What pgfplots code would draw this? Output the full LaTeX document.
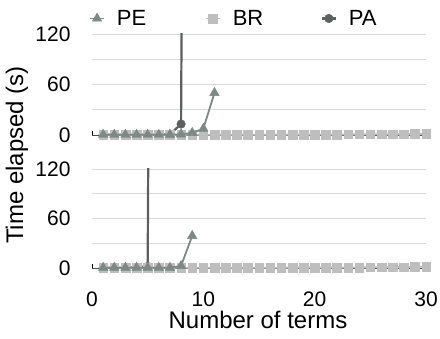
\documentclass[border=0pt]{standalone}
\usepackage{pgfplots}
\pgfplotsset{compat=1.18}
\usepackage{pgfplotstable}
\usepackage{fontspec}
\setmainfont{Liberation Sans}
\definecolor{peC}{HTML}{7D8984}
\definecolor{paC}{HTML}{5C605E}
\definecolor{brC}{HTML}{BEBEBE}
\definecolor{gridC}{HTML}{D9D9D9}

\pgfplotstableread{
x y
1 0.3
2 0.3
3 0.3
4 0.3
5 0.3
6 0.3
7 0.5
8 0.8
9 2.5
10 7.5
11 50
}\topPE
\pgfplotstableread{
x y
1 0.2
2 0.2
3 0.2
4 0.2
5 0.2
6 0.2
7 0.8
8 13
9 2500
}\topPA
\pgfplotstableread{
x y
1 0.2
2 0.2
3 0.2
4 0.2
5 0.2
6 0.2
7 0.2
8 0.2
9 0.2
10 0.3
11 0.3
12 0.3
13 0.3
14 0.3
15 0.4
16 0.4
17 0.4
18 0.5
19 0.5
20 0.5
21 0.6
22 0.6
23 0.7
24 0.7
25 0.8
26 0.9
27 1.0
28 1.1
29 1.2
30 1.4
}\topBR
\pgfplotstableread{
x y
1 0.3
2 0.3
3 0.3
4 0.3
5 0.3
6 0.3
7 0.3
8 2.5
9 39
}\botPE
\pgfplotstableread{
x y
1 0.2
2 0.2
3 0.3
4 1.0
5 1.8
6 2500
}\botPA
\pgfplotstableread{
x y
1 0.2
2 0.2
3 0.2
4 0.2
5 0.2
6 0.2
7 0.2
8 0.2
9 0.2
10 0.3
11 0.3
12 0.3
13 0.3
14 0.3
15 0.4
16 0.4
17 0.4
18 0.5
19 0.5
20 0.5
21 0.6
22 0.6
23 0.7
24 0.7
25 0.8
26 0.9
27 1.0
28 1.1
29 1.3
30 1.6
}\botBR

\pgfplotsset{
  myaxis/.style={
    scale only axis, width=334bp,
    xmin=0, xmax=30, ymin=-10, ymax=120,
    axis x line=middle, axis y line=left,
    hide obscured x ticks=false,
    y axis line style={draw=none},
    x axis line style={-, draw=black!70, line width=0.8bp},
    xtick={0,10,20,30},
    tick align=inside, major tick length=4bp,
    xtick style={black, line width=0.9bp},
    ytick={0,30,60,90,120}, yticklabels={0,,60,,120},
    ytick style={draw=none},
    ymajorgrids,
    major grid style={gridC, line width=0.8bp},
    clip mode=individual,
    /pgf/number format/assume math mode=true,
    tick label style={font=\fontsize{21bp}{25bp}\selectfont},
    yticklabel style={xshift=-18bp},
    peS/.style={peC, line width=1.8bp, mark=triangle*, mark size=5.5bp, mark options={solid, fill=peC, draw=peC, line width=0.4bp}},
    brS/.style={brC, line width=1.8bp, mark=square*, mark size=4.3bp, mark options={solid, fill=brC, draw=brC, line width=0.4bp}},
    paS/.style={paC, line width=2.2bp, mark=*, mark size=4.3bp, mark options={solid, fill=paC, draw=paC, line width=0.4bp}},
  }
}

\begin{document}
\begin{tikzpicture}
\path[use as bounding box] (0bp,0bp) rectangle (440bp,339bp);
% top axis
\begin{axis}[myaxis,
  at={(92bp,195.6bp)}, anchor=south west, height=109.4bp,
  xticklabels={},
  legend columns=3,
  legend style={at={(0,1)}, anchor=south west, xshift=-6bp, yshift=3bp,
    draw=none, fill=none,
    font=\fontsize{22bp}{26bp}\selectfont,
    /tikz/every odd column/.append style={column sep=10bp}},
  legend image code/.code={\draw[mark repeat=2, mark phase=2] plot coordinates {(0bp,0bp) (7bp,0bp) (14bp,0bp)};},
]
\addlegendimage{peS}
\addlegendentry{\makebox[86bp][l]{PE}}
\addlegendimage{brS}
\addlegendentry{\makebox[86bp][l]{BR}}
\addlegendimage{paS}
\addlegendentry{\makebox[40bp][l]{PA}}
\addplot[paS, mark=none, forget plot] table[x=x,y=y] {\topPA};
\addplot[paS, only marks, forget plot, restrict y to domain=-20:200] table[x=x,y=y] {\topPA};
\addplot[brS, forget plot] table[x=x,y=y] {\topBR};
\addplot[peS, forget plot] table[x=x,y=y] {\topPE};
\end{axis}
% bottom axis
\begin{axis}[myaxis,
  at={(92bp,62.75bp)}, anchor=south west, height=107.25bp,
  xticklabel style={yshift=-20bp},
]
\addplot[paS, mark=none] table[x=x,y=y] {\botPA};
\addplot[paS, only marks, restrict y to domain=-20:200] table[x=x,y=y] {\botPA};
\addplot[brS] table[x=x,y=y] {\botBR};
\addplot[peS] table[x=x,y=y] {\botPE};
\end{axis}
\node[rotate=90, font=\fontsize{24bp}{28bp}\selectfont] at (17bp,184bp) {Time elapsed (s)};
\node[font=\fontsize{24bp}{28bp}\selectfont] at (258bp,19bp) {Number of terms};
\end{tikzpicture}
\end{document}
